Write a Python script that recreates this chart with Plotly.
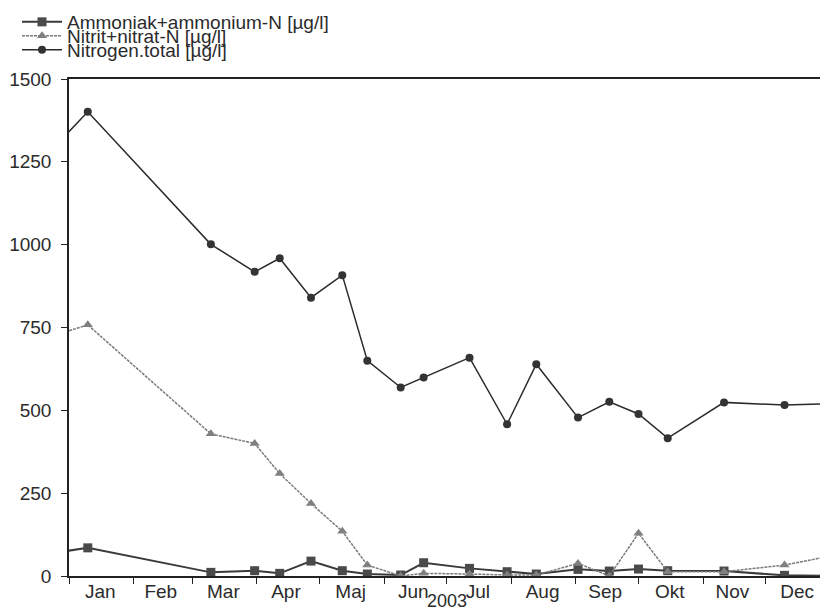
import plotly.graph_objects as go

# Sampling dates (first and last lie just outside the visible range)
dates = [
    "2002-12-12", "2003-01-10", "2003-03-10", "2003-03-31", "2003-04-12",
    "2003-04-27", "2003-05-12", "2003-05-24", "2003-06-09", "2003-06-20",
    "2003-07-12", "2003-07-30", "2003-08-13", "2003-09-02", "2003-09-17",
    "2003-10-01", "2003-10-15", "2003-11-11", "2003-12-10", "2004-01-08",
]

ammonium = [58, 85, 11, 16, 8, 45, 16, 6, 3, 40, 23, 13, 6, 20, 15, 21, 16, 15, 2, 0]
nitrat = [700, 758, 429, 400, 309, 219, 135, 33, 0, 8, 6, 3, 3, 38, 0, 129, 13, 13, 33, 69]
total = [1208, 1401, 1001, 918, 959, 840, 908, 650, 569, 599, 659, 458, 639, 478, 526,
         489, 416, 524, 516, 521]

names = ["Ammoniak+ammonium-N [µg/l]", "Nitrit+nitrat-N [µg/l]", "Nitrogen.total [µg/l]"]

month_mid = ["2003-01-16", "2003-02-14", "2003-03-16", "2003-04-15", "2003-05-16",
             "2003-06-15", "2003-07-16", "2003-08-16", "2003-09-15", "2003-10-16",
             "2003-11-15", "2003-12-16"]
month_labels = ["Jan", "Feb", "Mar", "Apr", "Maj", "Jun", "Jul", "Aug", "Sep", "Okt",
                "Nov", "Dec"]
y_ticks = [0, 250, 500, 750, 1000, 1250, 1500]

FONT = "Liberation Sans, Arial, sans-serif"
TXT = "#2b2b2b"
FS = 19

fig = go.Figure()
fig.add_trace(go.Scatter(
    x=dates, y=ammonium, name=names[0], mode="lines+markers",
    line=dict(color="#3a3a3a", width=2),
    marker=dict(symbol="square", size=9, color="#4a4a4a"),
    legend="legend", showlegend=True,
))
fig.add_trace(go.Scatter(
    x=dates, y=nitrat, name=names[1], mode="lines+markers",
    line=dict(color="#7a7a7a", width=1.5, dash="3px,1px"),
    marker=dict(symbol="triangle-up", size=9, color="#808080"),
    legend="legend2", showlegend=True,
))
fig.add_trace(go.Scatter(
    x=dates, y=total, name=names[2], mode="lines+markers",
    line=dict(color="#2a2a2a", width=1.5),
    marker=dict(symbol="circle", size=8, color="#333333"),
    legend="legend3", showlegend=True,
))

L, T, B = 69, 79, 36
H = 612
ph = H - T - B
pw = 820 - L


def ly(px):
    return (H - B - px) / ph


def lx(px):
    return (px - L) / pw


leg_common = dict(
    bgcolor="rgba(0,0,0,0)", borderwidth=0,
    font=dict(family=FONT, size=FS, color=TXT),
    xanchor="left", yanchor="middle", itemwidth=40, visible=True,
)

fig.update_layout(
    width=820, height=612,
    showlegend=True,
    margin=dict(l=L, r=0, t=T, b=B, autoexpand=False),
    paper_bgcolor="white", plot_bgcolor="white",
    font=dict(family=FONT, size=FS, color=TXT),
    legend=dict(x=lx(17), y=ly(22), **leg_common),
    legend2=dict(x=lx(17), y=ly(36), **leg_common),
    legend3=dict(x=lx(17), y=ly(50), **leg_common),
    xaxis=dict(
        type="date",
        range=["2003-01-01", "2003-12-27"],
        tickmode="array", tickvals=month_mid, ticktext=month_labels,
        ticks="", showgrid=False, zeroline=False,
        showline=True, linecolor="#222222", linewidth=2, mirror=True,
        minor=dict(ticks="outside", ticklen=6, tickwidth=1.3, tickcolor="#222222",
                   dtick="M1", tick0="2003-01-01", showgrid=False),
        ticklabelstandoff=-3,
        tickfont=dict(family=FONT, size=FS, color=TXT),
    ),
    yaxis=dict(
        range=[0, 1500], tickmode="array", tickvals=y_ticks,
        ticks="outside", ticklen=6, tickwidth=1.3, tickcolor="#222222",
        showgrid=False, zeroline=False,
        showline=True, linecolor="#222222", linewidth=1.5,
        ticklabelstandoff=6,
        tickfont=dict(family=FONT, size=FS, color=TXT),
    ),
    annotations=[dict(
        text="2003", xref="paper", yref="paper", x=lx(447), y=ly(601),
        xanchor="center", yanchor="middle", showarrow=False,
        font=dict(family=FONT, size=18, color=TXT),
    )],
)

fig.write_html("out.html")
